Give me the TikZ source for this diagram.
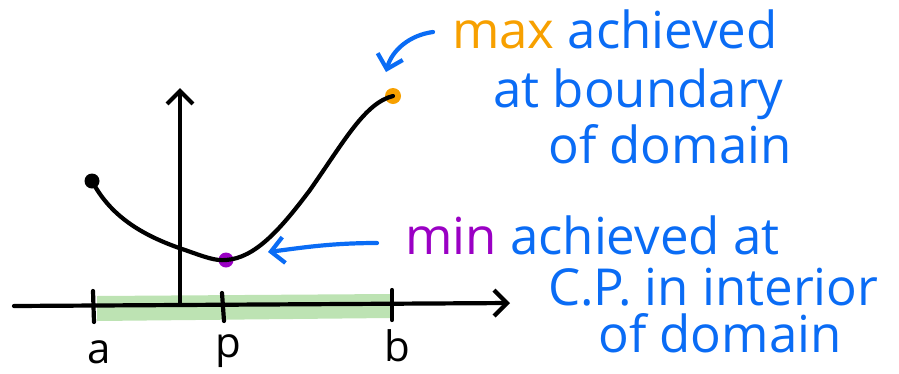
\documentclass[tikz,border=0pt]{standalone}
\usepackage{fontspec}
\setmainfont{Open Sans}
\usetikzlibrary{arrows.meta}
\definecolor{hblue}{HTML}{0A6CF5}
\definecolor{horange}{HTML}{F7A000}
\definecolor{hpurple}{HTML}{9A00C4}
\definecolor{hgreen}{HTML}{BDE3B3}
\begin{document}
\begin{tikzpicture}[x=1pt,y=-1pt,
  ink/.style={line width=4.2pt,line cap=round,line join=round},
  bluetxt/.style={text=hblue,font=\fontsize{51}{56}\selectfont,anchor=base west,inner sep=0pt},
  lbl/.style={font=\fontsize{42}{44}\selectfont,anchor=base,inner sep=0pt},
  tip/.style={-{Straight Barb[length=13pt,width=26pt,line width=4.2pt]}}]
\useasboundingbox (0,0) rectangle (899,373);
% green band
\fill[hgreen] (97,296) -- (390,294) -- (390,318) -- (97,321) -- cycle;
% axes
\coordinate (xs) at (14,306);
\coordinate (xe) at (510,303);
\coordinate (ys) at (180,304);
\coordinate (ye) at (180,88);
\draw[ink,tip] (xs) -- (xe);
\draw[ink,tip] (ys) -- (ye);
% ticks
\coordinate (ta1) at (93,291); \coordinate (ta2) at (94,322);
\coordinate (tp1) at (222,293); \coordinate (tp2) at (224,321);
\coordinate (tb1) at (392,290); \coordinate (tb2) at (392,320);
\draw[ink] (ta1) -- (ta2);
\draw[ink] (tp1) -- (tp2);
\draw[ink] (tb1) -- (tb2);
% tick labels
\node[lbl] (la) at (99,363) {a};
\node[lbl] (lp) at (228,357) {p};
\node[lbl] (lb) at (397,361) {b};
% curve
\node[circle,fill=black,inner sep=0pt,minimum size=15pt] (s) at (92,181) {};
\node[circle,fill=hpurple,inner sep=0pt,minimum size=15pt] (m) at (226,260) {};
\node[circle,fill=horange,inner sep=0pt,minimum size=16pt] (M) at (393,96) {};
\draw[ink] (s.center) .. controls (110,215) and (140,235) .. (185,250)
  .. controls (205,257) and (215,261) .. (m.center)
  .. controls (255,258) and (280,230) .. (310,190)
  .. controls (345,140) and (365,103) .. (M.center);
% texts
\node[bluetxt] (t1) at (452,48) {\textcolor{horange}{max} achieved};
\node[bluetxt] (t2) at (493,107) {at boundary};
\node[bluetxt] (t3) at (548,163) {of domain};
\node[bluetxt] (u1) at (405,254) {\textcolor{hpurple}{min} achieved at};
\node[bluetxt] (u2) at (548,305) {C.P. in interior};
\node[bluetxt] (u3) at (598,352) {of domain};
% blue arrows
\coordinate (a1s) at (433,32);
\coordinate (a1e) at (386,72);
\draw[ink,hblue,tip] (a1s) .. controls (410,35) and (392,50) .. (a1e);
\coordinate (a2s) at (377,243);
\coordinate (a2e) at (268,252);
\draw[ink,hblue,tip] (a2s) .. controls (330,243) and (300,248) .. (a2e);
\end{tikzpicture}
\end{document}
